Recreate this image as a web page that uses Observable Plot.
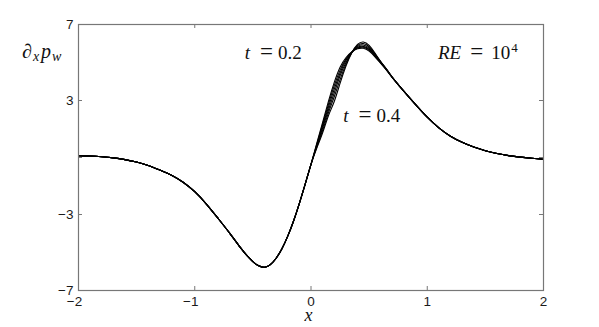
<!DOCTYPE html>
<html><head><meta charset="utf-8">
<script src="https://cdn.jsdelivr.net/npm/d3@7"></script>
<script src="https://cdn.jsdelivr.net/npm/@observablehq/plot@0.6"></script>
<style>body{margin:0;background:#fff} svg{display:block}</style>
</head><body><div id="chart"></div>
<script>
// ---- tick values ----
const xTicks = [-2, -1, 0, 1, 2];
const yTicks = [-7, -3, 3, 7];
const yTickMarks = [-7, -3, 0, 3, 7];

// ---- series: six time levels ----
const tValues = [0.2, 0.24, 0.28, 0.32, 0.36, 0.4];

// common left part (all curves coincide)
const xLeft = [-2, -1.9, -1.8, -1.7, -1.6, -1.5, -1.4, -1.3, -1.2, -1.1, -1.0, -0.9, -0.8, -0.7, -0.6, -0.55, -0.5, -0.45, -0.4, -0.35, -0.3, -0.25, -0.2, -0.15, -0.1, -0.05, 0];
const yLeft = [0.10, 0.08, 0.04, -0.02, -0.11, -0.24, -0.42, -0.66, -0.93, -1.30, -1.80, -2.45, -3.20, -3.98, -4.80, -5.17, -5.48, -5.70, -5.78, -5.64, -5.30, -4.80, -4.14, -3.34, -2.41, -1.40, -0.36];

// peak region where curves differ
const xPeak = [0.05, 0.1, 0.15, 0.2, 0.25, 0.3, 0.35, 0.4, 0.45, 0.5, 0.55, 0.6, 0.65, 0.7];
const yPeakT020 = [0.75, 1.85, 2.95, 3.95, 4.75, 5.25, 5.55, 5.72, 5.75, 5.60, 5.30, 4.95, 4.60, 4.20];
const yPeakT024 = [0.70, 1.75, 2.80, 3.78, 4.60, 5.18, 5.54, 5.76, 5.80, 5.65, 5.35, 4.98, 4.60, 4.20];
const yPeakT028 = [0.65, 1.65, 2.65, 3.60, 4.45, 5.10, 5.53, 5.80, 5.85, 5.70, 5.38, 5.00, 4.62, 4.21];
const yPeakT032 = [0.60, 1.55, 2.50, 3.40, 4.30, 5.00, 5.52, 5.85, 5.92, 5.76, 5.42, 5.02, 4.63, 4.21];
const yPeakT036 = [0.55, 1.42, 2.35, 3.20, 4.10, 4.90, 5.51, 5.90, 6.00, 5.83, 5.46, 5.04, 4.64, 4.22];
const yPeakT040 = [0.50, 1.30, 2.20, 2.95, 3.90, 4.80, 5.50, 5.95, 6.08, 5.90, 5.50, 5.05, 4.65, 4.22];

// common right part
const xRight = [0.75, 0.8, 0.9, 1.0, 1.1, 1.2, 1.3, 1.4, 1.5, 1.6, 1.7, 1.8, 1.9, 2.0];
const yRight = [3.84, 3.48, 2.78, 2.12, 1.56, 1.12, 0.80, 0.55, 0.36, 0.21, 0.10, 0.02, -0.04, -0.09];

const peaks = [yPeakT020, yPeakT024, yPeakT028, yPeakT032, yPeakT036, yPeakT040];
const data = tValues.flatMap((t, i) => [
  ...xLeft.map((x, j) => ({t, x, y: yLeft[j]})),
  ...xPeak.map((x, j) => ({t, x, y: peaks[i][j]})),
  ...xRight.map((x, j) => ({t, x, y: yRight[j]}))
]);

// ---- layout ----
const W = 599, H = 327, mL = 78, mR = 56, mT = 24, mB = 37;
const fw = W - mL - mR, fh = H - mT - mB, tk = 4;
const axisColor = "#777";
const fmt = d => (d < 0 ? "\u2212" : "") + Math.abs(d);

const chart = Plot.plot({
  width: W, height: H,
  marginLeft: mL, marginRight: mR, marginTop: mT, marginBottom: mB,
  style: {background: "white", fontFamily: "'Liberation Sans', Arial, sans-serif", fontSize: "13.5px", color: "#1a1a1a"},
  x: {domain: [-2, 2]},
  y: {domain: [-7, 7]},
  marks: [
    Plot.line(data, {x: "x", y: "y", z: "t", stroke: "#000", strokeWidth: 1.1, curve: "natural"}),
    Plot.frame({stroke: axisColor, strokeWidth: 1.2}),
    Plot.tickX(xTicks, {x: d => d, stroke: axisColor, insetTop: fh - tk}),
    Plot.tickX(xTicks, {x: d => d, stroke: axisColor, insetBottom: fh - tk}),
    Plot.tickY(yTickMarks, {y: d => d, stroke: axisColor, insetRight: fw - tk}),
    Plot.tickY(yTickMarks, {y: d => d, stroke: axisColor, insetLeft: fw - tk}),
    Plot.axisX(xTicks.filter(d => d >= 0), {tickSize: 0, tickPadding: 6, label: null, tickFormat: fmt}),
    Plot.axisX(xTicks.filter(d => d < 0), {tickSize: 0, tickPadding: 6, label: null, dx: -4, tickFormat: fmt}),
    Plot.axisY(yTicks, {tickSize: 0, tickPadding: 5, label: null, tickFormat: fmt})
  ]
});
document.getElementById("chart").appendChild(chart);

// ---- math-style annotations ----
const sx = chart.scale("x"), sy = chart.scale("y");
const svg = d3.select(chart);
const serif = "'Liberation Serif', 'Times New Roman', serif";

function addText(x, y, parts, size) {
  const t = svg.append("text").attr("x", x).attr("y", y)
    .attr("text-anchor", "start")
    .attr("font-family", serif).attr("font-size", size).attr("fill", "#111");
  for (const p of parts) {
    const s = t.append("tspan").text(p.s);
    if (p.i) s.attr("font-style", "italic");
    if (p.dx != null) s.attr("dx", p.dx);
    if (p.dy != null) s.attr("dy", p.dy);
    if (p.size) s.attr("font-size", p.size);
  }
  return t;
}

// t = 0.2
addText(sx.apply(-0.565), sy.apply(5.18), [{s: "t", i: 1}, {s: "=", dx: 10, size: 23}, {s: "0.2", dx: 5}], 19);
// t = 0.4
addText(sx.apply(0.282), sy.apply(1.84), [{s: "t", i: 1}, {s: "=", dx: 10, size: 23}, {s: "0.4", dx: 5}], 19);
// RE = 10^4
addText(sx.apply(1.097), sy.apply(5.16), [{s: "RE", i: 1}, {s: "=", dx: 9, size: 23}, {s: "10", dx: 8}, {s: "4", dx: 1, dy: -7, size: 13}], 19);
// y-axis label ∂x p_w
addText(22, 58, [{s: "∂", i: 1}, {s: "x", i: 1, dy: 3, size: 14, dx: 1}, {s: "p", i: 1, dy: -3, dx: 2}, {s: "w", i: 1, dy: 3, size: 14, dx: 1}], 20);
// x-axis label
addText(sx.apply(0), 321, [{s: "x", i: 1}], 18).attr("text-anchor", "middle").attr("dx", -2);
</script>
</body></html>
